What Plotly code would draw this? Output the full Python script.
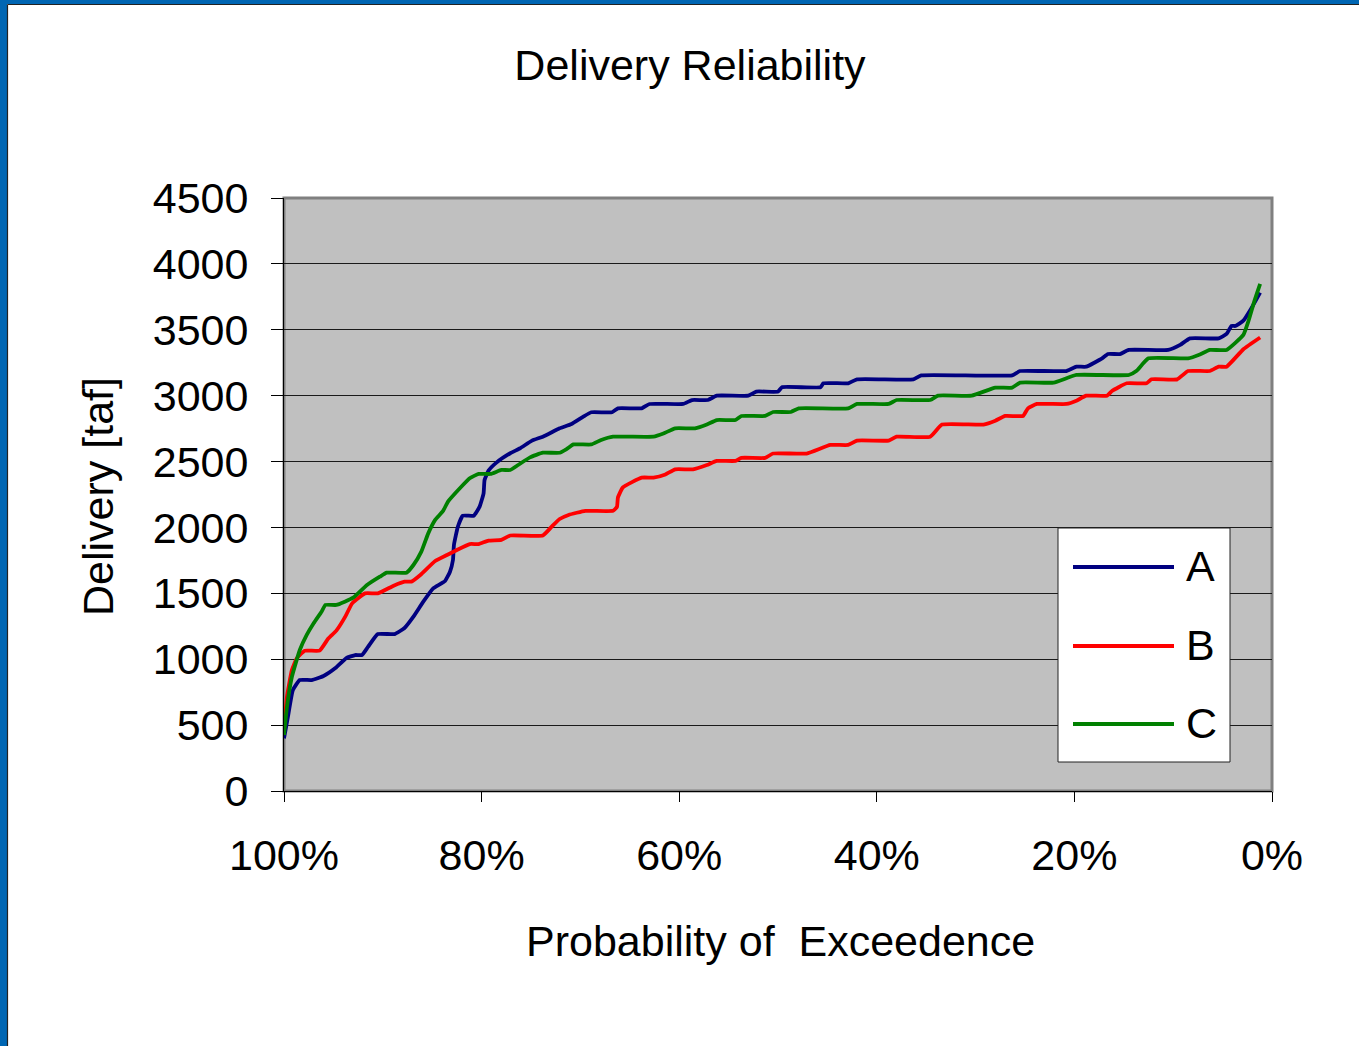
import plotly.graph_objects as go

# ---- data ----
prob_a = [100.0, 99.6, 99.1, 98.4, 97.2, 96.0, 94.8, 93.7, 92.8, 92.1, 91.5, 90.5, 88.8, 87.8, 86.9, 85.9,
          84.9, 83.7, 83.2, 82.9, 82.8, 82.4, 81.9, 80.8, 80.2, 79.8, 79.7, 79.3, 78.5, 77.1, 76.1, 74.9,
          73.8, 72.1, 70.9, 69.7, 68.9, 66.8, 66.2, 63.8, 63.0, 59.6, 58.7, 57.1, 56.2, 53.0, 52.2, 50.0,
          49.6, 45.7, 45.4, 42.9, 42.0, 36.3, 35.5, 26.3, 25.5, 20.8, 19.8, 18.8, 17.2, 16.6, 15.4, 14.5,
          10.5, 9.3, 8.3, 5.4, 4.6, 4.1, 3.7, 2.9, 2.1, 1.2]
deliv_a = [400, 564, 766, 842, 842, 873, 933, 1009, 1032, 1032, 1093, 1191, 1191, 1237, 1323, 1437,
           1538, 1594, 1664, 1753, 1867, 2006, 2089, 2089, 2158, 2259, 2360, 2431, 2492, 2563, 2601, 2659,
           2689, 2752, 2785, 2841, 2874, 2874, 2904, 2904, 2937, 2937, 2967, 2967, 3000, 3000, 3031, 3031,
           3064, 3064, 3094, 3094, 3124, 3124, 3154, 3154, 3187, 3187, 3220, 3220, 3283, 3316, 3316, 3347,
           3347, 3385, 3435, 3435, 3468, 3529, 3529, 3569, 3662, 3782]

prob_b = [100.0, 99.7, 99.2, 98.7, 97.9, 96.4, 95.5, 94.7, 93.8, 93.1, 91.8, 90.5, 88.9, 87.8, 87.1, 86.2,
          84.7, 83.5, 82.5, 81.2, 80.3, 79.3, 78.0, 77.1, 73.8, 72.9, 72.1, 71.2, 69.5, 66.7, 66.3, 66.2,
          65.7, 63.8, 62.6, 61.4, 60.4, 58.6, 57.2, 56.2, 54.3, 53.7, 51.3, 50.5, 47.1, 44.7, 42.9, 42.0,
          38.8, 38.0, 34.6, 33.4, 29.2, 28.0, 27.0, 25.2, 24.7, 23.8, 20.8, 19.8, 18.8, 16.7, 16.2, 14.7,
          12.7, 12.2, 9.6, 8.5, 6.3, 5.4, 4.6, 2.9, 1.2]
deliv_b = [463, 716, 918, 1007, 1065, 1065, 1159, 1217, 1323, 1424, 1500, 1500, 1558, 1589, 1589, 1639,
           1745, 1791, 1829, 1874, 1874, 1900, 1905, 1939, 1939, 2006, 2064, 2095, 2126, 2126, 2156, 2228,
           2304, 2378, 2378, 2402, 2441, 2441, 2474, 2505, 2505, 2528, 2528, 2561, 2561, 2626, 2626, 2659,
           2659, 2689, 2689, 2781, 2781, 2810, 2846, 2846, 2904, 2937, 2937, 2962, 3000, 3000, 3035, 3094,
           3094, 3124, 3124, 3187, 3187, 3220, 3220, 3352, 3441]

prob_c = [100.0, 99.7, 99.2, 98.4, 97.7, 97.0, 96.2, 95.8, 94.7, 93.0, 91.6, 90.3, 89.6, 87.6, 86.9, 86.1,
          85.4, 84.7, 83.9, 83.4, 82.2, 81.2, 80.3, 79.1, 78.0, 77.1, 76.3, 75.1, 73.8, 72.1, 71.4, 70.7,
          68.9, 67.9, 66.7, 62.6, 61.6, 60.4, 58.4, 57.2, 56.2, 54.3, 53.7, 51.3, 50.5, 48.7, 47.9, 42.9,
          42.0, 38.8, 38.0, 34.6, 33.8, 30.4, 28.0, 26.3, 25.5, 22.1, 19.8, 14.5, 13.7, 12.5, 8.5, 7.3,
          6.3, 4.6, 2.9, 2.4, 1.8, 1.2]
deliv_c = [425, 640, 867, 1070, 1184, 1273, 1361, 1412, 1412, 1467, 1563, 1626, 1657, 1657, 1715, 1816,
           1955, 2057, 2126, 2196, 2297, 2373, 2406, 2406, 2436, 2436, 2474, 2532, 2567, 2567, 2595, 2630,
           2630, 2664, 2689, 2689, 2713, 2752, 2752, 2781, 2815, 2815, 2846, 2846, 2876, 2876, 2904, 2904,
           2937, 2937, 2967, 2967, 3000, 3000, 3061, 3061, 3099, 3099, 3157, 3157, 3190, 3283, 3283, 3313,
           3347, 3347, 3461, 3562, 3714, 3848]

series_names = ["A", "B", "C"]
series_colors = ["#000080", "#FF0000", "#008000"]
x_ticks = [100, 80, 60, 40, 20, 0]
y_ticks = [0, 500, 1000, 1500, 2000, 2500, 3000, 3500, 4000, 4500]

# ---- layout geometry ----
W, H = 1359, 1046
L, R, T, B = 284, 1272, 198, 791
FONT = "Liberation Sans, Arial, sans-serif"
FS = 43


def px(xp):
    return (xp - L) / (R - L)


def py(yp):
    return (B - yp) / (B - T)


fig = go.Figure()
for xs, ys, name, col in zip([prob_a, prob_b, prob_c], [deliv_a, deliv_b, deliv_c], series_names, series_colors):
    fig.add_trace(go.Scatter(x=xs, y=ys, name=name, mode="lines",
                             line=dict(color=col, width=3.8, shape="spline", smoothing=0.4),
                             showlegend=False))

shapes = []
# plot-area grey border
shapes.append(dict(type="rect", xref="paper", yref="paper", x0=0, x1=1, y0=0, y1=1,
                   line=dict(color="#808080", width=3), layer="below"))
# slide frame (blue) left and top
shapes.append(dict(type="rect", xref="paper", yref="paper", x0=px(-2), x1=px(7), y0=py(H + 2), y1=py(-2),
                   fillcolor="#0066B3", line=dict(width=0)))
shapes.append(dict(type="rect", xref="paper", yref="paper", x0=px(-2), x1=px(W + 2), y0=py(4), y1=py(-2),
                   fillcolor="#0066B3", line=dict(width=0)))
shapes.append(dict(type="line", xref="paper", yref="paper", x0=px(7.5), x1=px(7.5), y0=py(H + 2), y1=py(4.5),
                   line=dict(color="#222222", width=1.2)))
shapes.append(dict(type="line", xref="paper", yref="paper", x0=px(7.5), x1=px(W + 2), y0=py(4.5), y1=py(4.5),
                   line=dict(color="#222222", width=1.2)))
# manual legend box
shapes.append(dict(type="rect", xref="paper", yref="paper", x0=px(1058), x1=px(1230), y0=py(762), y1=py(528),
                   fillcolor="white", line=dict(color="#222222", width=1)))
annotations = []
leg_y = [567, 646, 724]
for name, col, yy in zip(series_names, series_colors, leg_y):
    shapes.append(dict(type="line", xref="paper", yref="paper", x0=px(1073), x1=px(1174), y0=py(yy), y1=py(yy),
                       line=dict(color=col, width=3.8)))
    annotations.append(dict(text=name, xref="paper", yref="paper", x=px(1184), y=py(yy - 1),
                            xanchor="left", yanchor="middle", showarrow=False,
                            font=dict(family=FONT, size=FS, color="black")))

# axis titles
annotations.append(dict(text="Probability of  Exceedence", xref="paper", yref="paper", x=px(780), y=py(941),
                        xanchor="center", yanchor="middle", showarrow=False,
                        font=dict(family=FONT, size=FS, color="black")))
annotations.append(dict(text="Delivery [taf]", xref="paper", yref="paper", x=px(98), y=py(497),
                        xanchor="center", yanchor="middle", showarrow=False, textangle=-90,
                        font=dict(family=FONT, size=FS, color="black")))

fig.update_layout(
    width=W, height=H,
    margin=dict(l=L, r=W - R, t=T, b=H - B, pad=0),
    paper_bgcolor="white", plot_bgcolor="#C0C0C0",
    title=dict(text="Delivery Reliability", x=690 / W, xanchor="center", y=1 - 65 / H, yanchor="middle",
               font=dict(family=FONT, size=FS, color="black")),
    shapes=shapes, annotations=annotations,
    font=dict(family=FONT, size=FS, color="black"),
)
fig.update_xaxes(range=[100, 0], tickvals=x_ticks, ticktext=[f"{v}%" for v in x_ticks],
                 showgrid=False, zeroline=False, showline=True, linecolor="black", linewidth=1,
                 ticks="outside", ticklen=10, tickcolor="black", tickwidth=1,
                 tickfont=dict(family=FONT, size=FS, color="black"), ticklabelstandoff=16)
fig.update_yaxes(range=[0, 4500], tickvals=y_ticks,
                 showgrid=True, gridcolor="#1a1a1a", gridwidth=1, zeroline=False,
                 showline=True, linecolor="black", linewidth=1,
                 ticks="outside", ticklen=12, tickcolor="black", tickwidth=1,
                 tickfont=dict(family=FONT, size=FS, color="black"), ticklabelstandoff=14)

fig.write_html("out.html", config={"displayModeBar": False},
               post_script="document.body.style.margin='0';")
